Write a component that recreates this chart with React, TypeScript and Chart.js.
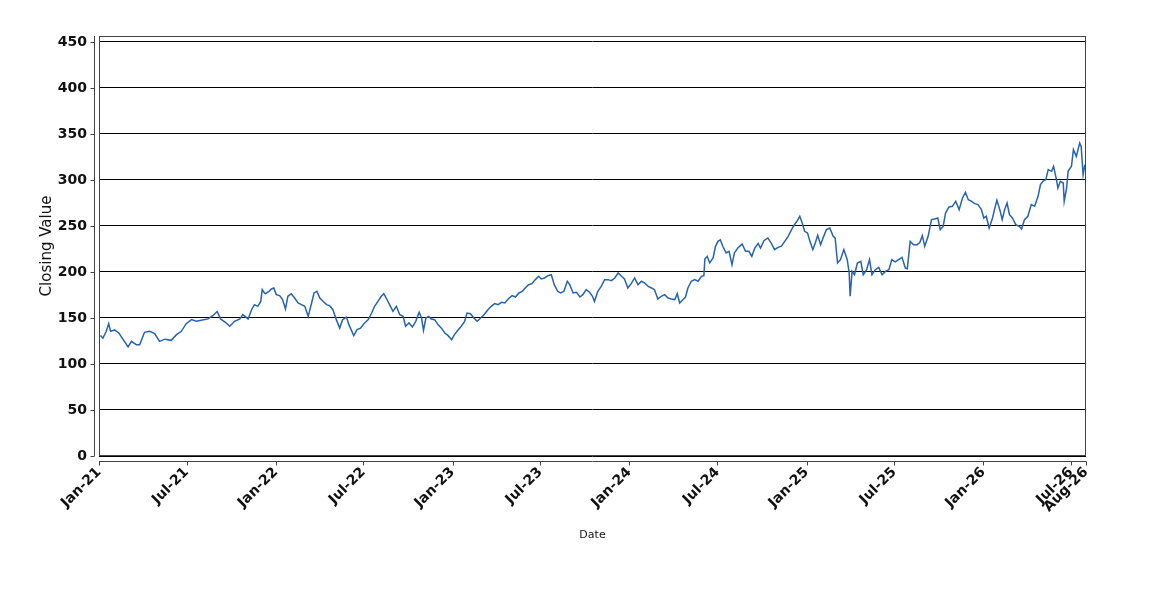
import React, { useEffect, useRef } from "react";
import { Chart, registerables } from "chart.js";

Chart.register(...registerables);

const dates: string[] = [
  "2021-01-04","2021-01-09","2021-01-16","2021-01-21","2021-01-25","2021-02-02","2021-02-11","2021-02-20",
  "2021-03-02","2021-03-09","2021-03-19","2021-03-26","2021-04-05","2021-04-16","2021-04-26","2021-05-06",
  "2021-05-17","2021-05-30","2021-06-10","2021-06-20","2021-06-30","2021-07-11","2021-07-21","2021-07-31",
  "2021-08-14","2021-08-24","2021-09-02","2021-09-09","2021-09-19","2021-09-28","2021-10-08","2021-10-19",
  "2021-10-25","2021-11-05","2021-11-12","2021-11-18","2021-11-25","2021-12-01","2021-12-04","2021-12-09",
  "2021-12-11","2021-12-18","2021-12-23","2021-12-28",
  "2022-01-02","2022-01-09","2022-01-15","2022-01-21","2022-01-26","2022-02-02","2022-02-09","2022-02-16",
  "2022-02-23","2022-03-02","2022-03-09","2022-03-16","2022-03-21","2022-03-27","2022-04-02","2022-04-09",
  "2022-04-16","2022-04-22","2022-04-29","2022-05-06","2022-05-13","2022-05-19","2022-05-27","2022-06-01",
  "2022-06-11","2022-06-18","2022-06-25","2022-07-02","2022-07-11","2022-07-18","2022-07-24","2022-07-31",
  "2022-08-07","2022-08-12","2022-08-17","2022-08-24","2022-08-31","2022-09-07","2022-09-14","2022-09-21",
  "2022-09-26","2022-10-03","2022-10-10","2022-10-17","2022-10-24","2022-10-29","2022-11-02","2022-11-07",
  "2022-11-13","2022-11-18","2022-11-25","2022-12-02","2022-12-09","2022-12-16","2022-12-23","2022-12-30",
  "2023-01-05","2023-01-12","2023-01-19","2023-01-26","2023-01-31","2023-02-07","2023-02-14","2023-02-21",
  "2023-02-28","2023-03-07","2023-03-15","2023-03-22","2023-03-29","2023-04-05","2023-04-12","2023-04-19",
  "2023-04-26","2023-05-04","2023-05-11","2023-05-18","2023-05-25","2023-05-31","2023-06-07","2023-06-14",
  "2023-06-21","2023-06-28","2023-07-03","2023-07-10","2023-07-17","2023-07-24","2023-07-30","2023-08-06",
  "2023-08-12","2023-08-19","2023-08-26","2023-08-31","2023-09-07","2023-09-14","2023-09-21","2023-09-27",
  "2023-10-04","2023-10-11","2023-10-17","2023-10-21","2023-10-28","2023-11-04","2023-11-11","2023-11-18",
  "2023-11-25","2023-12-02","2023-12-09","2023-12-16","2023-12-22","2023-12-29",
  "2024-01-05","2024-01-12","2024-01-19","2024-01-26","2024-02-02","2024-02-09","2024-02-16","2024-02-22",
  "2024-02-29","2024-03-07","2024-03-14","2024-03-21","2024-03-28","2024-04-04","2024-04-09","2024-04-14",
  "2024-04-21","2024-04-26","2024-05-01","2024-05-08","2024-05-15","2024-05-22","2024-05-29","2024-06-03",
  "2024-06-05","2024-06-10","2024-06-15","2024-06-22","2024-06-27","2024-07-02","2024-07-07","2024-07-12",
  "2024-07-19","2024-07-25","2024-07-31","2024-08-05","2024-08-12","2024-08-21","2024-08-28","2024-09-04",
  "2024-09-10","2024-09-16","2024-09-23","2024-09-28","2024-10-05","2024-10-13","2024-10-20","2024-10-27",
  "2024-11-03","2024-11-10","2024-11-17","2024-11-24","2024-12-01","2024-12-07","2024-12-13","2024-12-18",
  "2024-12-23","2024-12-28",
  "2025-01-03","2025-01-08","2025-01-14","2025-01-19","2025-01-24","2025-01-30","2025-02-04","2025-02-11",
  "2025-02-18","2025-02-25","2025-03-01","2025-03-06","2025-03-12","2025-03-19","2025-03-26","2025-03-30",
  "2025-04-01","2025-04-05","2025-04-10","2025-04-16","2025-04-23","2025-04-28","2025-05-05","2025-05-11",
  "2025-05-16","2025-05-23","2025-05-30","2025-06-06","2025-06-13","2025-06-20","2025-06-26","2025-07-03",
  "2025-07-10","2025-07-17","2025-07-24","2025-07-28","2025-08-03","2025-08-10","2025-08-17","2025-08-23",
  "2025-08-28","2025-09-02","2025-09-09","2025-09-16","2025-09-22","2025-09-29","2025-10-04","2025-10-10",
  "2025-10-15","2025-10-22","2025-10-29","2025-11-05","2025-11-12","2025-11-19","2025-11-25","2025-12-01",
  "2025-12-08","2025-12-14","2025-12-21","2025-12-28",
  "2026-01-02","2026-01-07","2026-01-13","2026-01-20","2026-01-24","2026-01-29","2026-02-04","2026-02-09",
  "2026-02-14","2026-02-19","2026-02-24","2026-03-02","2026-03-09","2026-03-16","2026-03-21","2026-03-27",
  "2026-04-03","2026-04-10","2026-04-17","2026-04-24","2026-04-29","2026-05-04","2026-05-10","2026-05-15",
  "2026-05-22","2026-05-26","2026-06-01","2026-06-04","2026-06-09","2026-06-15","2026-06-17","2026-06-22",
  "2026-06-25","2026-07-02","2026-07-06","2026-07-12","2026-07-19","2026-07-22","2026-07-26","2026-07-29",
  "2026-08-01",
];

const closingValues: number[] = [
  131, 128, 135.5, 143.8, 135.5, 137, 133.7, 126.4,
  118.5, 124.6, 121, 121, 134.4, 135.5, 133, 124.6,
  127, 125.7, 131.9, 135.5, 143.8, 148.2, 146.4, 147.5,
  149, 152.5, 157, 149, 145.3, 141, 146.4, 149,
  153.6, 149, 159, 164.5, 162.7, 168, 180.8, 177,
  176.4, 179, 181.5, 182.6,
  175.4, 174.3, 170, 159.8, 173.6, 176.4, 171.7, 166.3,
  164.5, 162.7, 151.8, 166.3, 177.2, 179, 171.7, 168,
  164.5, 163.4, 159, 148.2, 139, 148.2, 151, 142.8,
  130.8, 137.3, 139, 143.8, 148.2, 155.4, 162.7, 168,
  173.6, 176.4, 171.7, 164.5, 157.2, 162.7, 153.6, 151.8,
  141, 144.6, 140.2, 146.4, 156.2, 150, 136.6, 150,
  151.8, 148.9, 148.2, 142.8, 139, 133.7, 130.8, 126.4,
  131.9, 136.6, 141, 146.4, 155.4, 154.7, 150, 146.4,
  150, 153.6, 159, 162.7, 165.6, 164.5, 167, 166.3,
  170.7, 174.3, 172.8, 177.2, 179, 182.6, 186.2, 187.3,
  191.7, 195.3, 192.4, 193.5, 196, 197, 186.2, 179,
  177.2, 179, 189.9, 186.2, 177.2, 177.9, 172.8, 175.4,
  180.8, 178, 173.6, 168, 179, 184.4, 191.7, 191.7,
  190.6, 193.5, 198.9, 195.3, 192.4, 182.6,
  187.3, 193.5, 186.2, 189.9, 188, 184.4, 182.6, 180.8,
  170.7, 173.6, 175.4, 171.7, 170.7, 170, 176.4, 166.3,
  170, 172.8, 182.6, 189.9, 191.7, 189.9, 195.3, 196,
  214, 217, 209.8, 215.2, 227.9, 233.3, 235, 227.9,
  220.7, 222.5, 208, 220.7, 226, 230.4, 222.5, 222.5,
  217, 226, 231, 226, 234, 237, 231.5, 224.3,
  226.8, 228, 233.3, 238.8, 246, 251.4, 255.8, 260.5,
  253.3, 244.2,
  242.4, 233.3, 224.3, 231.5, 239.9, 229.7, 237, 246,
  247.8, 238.8, 237, 209.8, 213.4, 224.3, 213.4, 198.9,
  173.6, 200.7, 197, 209.8, 211.6, 197, 202.5, 213.4,
  197, 202.5, 205, 197, 200.7, 202.5, 213.4, 210.9,
  213.4, 215.9, 204.3, 203.6, 233.3, 229.7, 229.7, 232,
  239.5, 227.9, 238.8, 256.9, 257.6, 258.7, 246, 249.6,
  264.1, 270.7, 271.4, 276.8, 267.8, 280.4, 286.6, 278.6,
  276.8, 274.3, 273.2, 267.8,
  258.7, 260.5, 247.8, 258.7, 267.8, 277.9, 267.8, 256.9,
  267.8, 275, 262.3, 258.7, 251.4, 249.6, 246.7, 256.9,
  260.5, 273.2, 271.4, 282.2, 294.9, 298.6, 300.4, 311.2,
  309.4, 314.9, 300.4, 291.3, 298.6, 296.7, 276.8, 291.3,
  309.4, 314.9, 333, 325.7, 340.2, 336.6, 305.8, 314.9,
  312,
];

const xTickDates: string[] = [
  "2021-01-01","2021-07-01","2022-01-01","2022-07-01","2023-01-01","2023-07-01",
  "2024-01-01","2024-07-01","2025-01-01","2025-07-01","2026-01-01","2026-07-01","2026-08-01",
];

const yTickValues: number[] = [0, 50, 100, 150, 200, 250, 300, 350, 400, 450];
const monthNames: string[] = ["Jan","Feb","Mar","Apr","May","Jun","Jul","Aug","Sep","Oct","Nov","Dec"];

const toMs = (s: string) => {
  const [y, m, d] = s.split("-").map(Number);
  return Date.UTC(y, m - 1, d);
};

const fmtTick = (v: number) => {
  const d = new Date(v);
  return monthNames[d.getUTCMonth()] + "-" + String(d.getUTCFullYear()).slice(2);
};

const frameColor = "#444444";

const framePlugin = {
  id: "frame",
  afterDatasetsDraw(chart: any) {
    const { ctx, chartArea } = chart;
    const { left, right, top, bottom } = chartArea;
    const xs = chart.scales.x;
    const ys = chart.scales.y;
    ctx.save();
    ctx.strokeStyle = frameColor;
    ctx.lineWidth = 1;
    ctx.strokeRect(Math.round(left) + 0.5, Math.round(top) + 0.5, Math.round(right - left) - 1, Math.round(bottom - top) - 1);
    const ax = Math.round(left) - 5 + 0.5;
    ctx.beginPath();
    ctx.moveTo(ax, top);
    ctx.lineTo(ax, bottom);
    yTickValues.forEach((v) => {
      const py = Math.round(ys.getPixelForValue(v)) + 0.5;
      ctx.moveTo(ax - 4, py);
      ctx.lineTo(ax, py);
    });
    const ay = Math.round(bottom) + 5 + 0.5;
    ctx.moveTo(left, ay);
    ctx.lineTo(right, ay);
    xTickDates.forEach((s) => {
      const px = Math.round(xs.getPixelForValue(toMs(s))) + 0.5;
      ctx.moveTo(px, ay);
      ctx.lineTo(px, ay + 4);
    });
    ctx.stroke();
    ctx.restore();
  },
};

export default function App() {
  const ref = useRef<HTMLCanvasElement | null>(null);
  useEffect(() => {
    if (!ref.current) return;
    const points = dates.map((d, i) => ({ x: toMs(d), y: closingValues[i] }));
    const chart = new Chart(ref.current, {
      type: "line",
      data: {
        datasets: [
          {
            label: "Closing Value",
            data: points,
            borderColor: "#2663b0",
            borderWidth: 1.5,
            pointRadius: 0,
            tension: 0,
            fill: false,
          },
        ],
      },
      options: {
        responsive: false,
        animation: false,
        events: [],
        layout: { padding: { left: 26, top: 28, right: 56, bottom: 46 } },
        plugins: { legend: { display: false }, tooltip: { enabled: false } },
        scales: {
          x: {
            type: "linear",
            min: toMs("2021-01-01"),
            max: toMs("2026-08-01"),
            afterBuildTicks: (scale: any) => {
              scale.ticks = xTickDates.map((s) => ({ value: toMs(s) }));
            },
            afterFit: (scale: any) => {
              scale.height = 90;
            },
            grid: { display: false, drawTicks: false },
            border: { display: false },
            ticks: {
              autoSkip: false,
              minRotation: 45,
              maxRotation: 45,
              padding: 8,
              color: "#111",
              font: { family: "DejaVu Sans", size: 14, weight: "bold" },
              callback: (v: any) => fmtTick(Number(v)),
            },
            title: {
              display: true,
              text: "Date",
              color: "#111",
              font: { family: "DejaVu Sans", size: 11 },
            },
          },
          y: {
            type: "linear",
            min: 0,
            max: 456.5,
            afterBuildTicks: (scale: any) => {
              scale.ticks = yTickValues.map((v) => ({ value: v }));
            },
            afterFit: (scale: any) => {
              scale.width = 65;
            },
            grid: { color: "#000000", lineWidth: 1, drawTicks: false },
            border: { display: false },
            ticks: {
              padding: 12,
              color: "#111",
              font: { family: "DejaVu Sans", size: 14, weight: "bold" },
            },
            title: {
              display: true,
              text: "Closing Value",
              color: "#111",
              font: { family: "DejaVu Sans", size: 15 },
            },
          },
        },
      },
      plugins: [framePlugin],
    });
    return () => chart.destroy();
  }, []);
  return (
    <div style={{ width: 1134, height: 584 }}>
      <canvas ref={ref} width={1134} height={584} />
    </div>
  );
}
